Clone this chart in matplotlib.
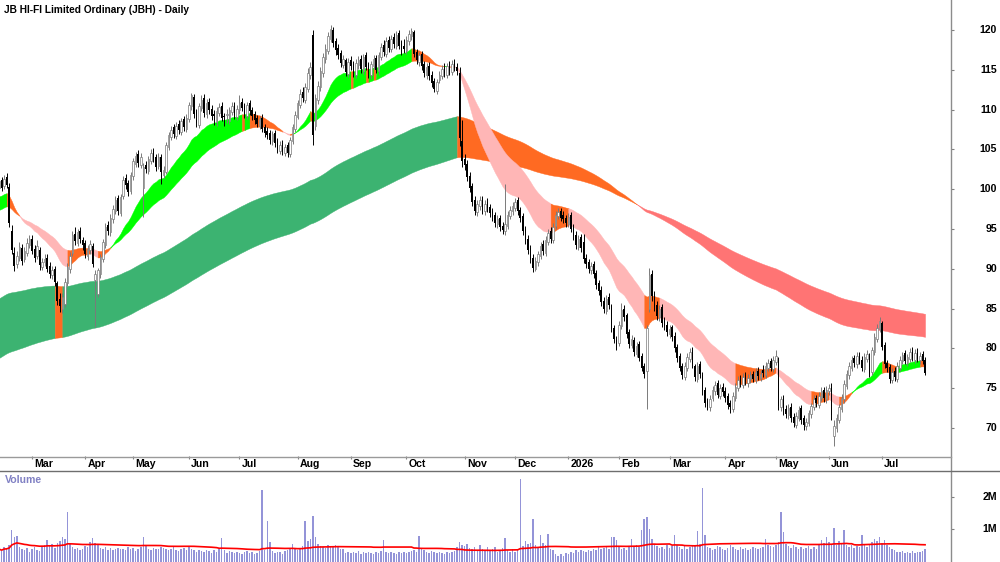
#!/usr/bin/env python3

import matplotlib
matplotlib.use('Agg')
import matplotlib.pyplot as plt
from matplotlib.lines import Line2D
import matplotlib.transforms as mtrans
import numpy as np
import pandas as pd

plt.rcParams['font.family'] = ['Liberation Sans', 'DejaVu Sans']

#ASX trading days, exchange holidays skipped
start_date = '2025-02-12'
asx_holidays = ['2025-04-18', '2025-04-21', '2025-04-25', '2025-06-09', '2025-12-25',
                '2025-12-26', '2026-01-01', '2026-01-26', '2026-04-03', '2026-04-06',
                '2026-06-08']

#daily prices
opens = [
    100.2, 101.1, 100.4, 101.5, 100.3, 94.8, 92.0, 90.6, 91.4,
    92.6, 91.2, 92.0, 93.0, 93.8, 92.5, 91.6, 92.4,
    90.2, 90.9, 91.4, 90.3, 89.2, 90.0, 88.2, 86.2, 85.0,
    85.6, 88.2, 90.0, 92.0, 94.4, 93.3, 94.7, 93.6, 93.2, 91.6, 92.4, 92.9,
    88.6, 86.8, 89.4, 91.2, 93.0, 95.5, 94.6, 96.2, 97.3, 98.9, 97.0,
    99.2, 101.4, 100.8, 99.8, 101.6, 103.2, 104.4,
    103.1, 100.2, 103.0, 102.3, 103.6, 104.8, 104.0, 102.9, 104.0, 101.8,
    102.2, 105.3, 106.6, 107.8, 106.7, 108.2, 107.2, 108.8, 107.6, 108.8, 110.4,
    111.6, 109.7, 108.1, 110.2, 111.4, 109.4, 111.0,
    110.1, 109.4, 108.4, 109.6, 110.5, 109.2, 109.3, 108.6, 109.7, 110.6, 109.1,
    109.9, 111.0, 110.4, 109.2, 110.8, 109.9, 109.4,
    108.9, 108.0, 109.0, 107.8, 107.3, 107.0, 106.0,
    107.1, 106.0, 104.8, 105.8, 104.6, 105.5, 104.4, 106.0, 107.6,
    109.1, 110.6, 112.2, 111.2, 112.6, 114.4, 119.4,
    108.0, 111.2, 112.8, 114.6, 116.4, 117.4, 118.9, 120.0, 118.6,
    117.8, 117.1, 115.6, 116.2, 114.5, 116.2, 115.7, 114.4,
    115.6, 116.4, 114.9, 116.8, 115.6, 114.3, 115.5, 116.5, 114.8, 116.6, 118.1, 117.0, 118.8,
    117.6, 119.1, 118.0, 119.6, 118.2, 118.0, 117.4, 118.6, 119.3,
    119.8, 117.2, 116.0, 117.0, 115.7, 114.4, 115.5, 114.4, 113.6, 112.4, 113.7, 114.2,
    115.3, 114.4, 115.7, 114.7, 115.9, 115.4,
    114.6, 106.0, 103.8, 103.2, 101.7, 100.4, 98.6, 97.1, 97.9, 98.8, 97.2, 98.4,
    97.8, 97.2, 96.7, 95.6, 96.4, 95.4,
    94.7, 95.4, 96.6, 97.2, 97.7, 98.6, 97.4,
    96.6, 95.0, 93.8, 92.6, 91.4, 90.0, 90.8, 91.6, 93.1, 92.0, 93.4, 94.7, 93.6,
    95.4, 96.6, 97.3, 96.8, 96.4, 95.6,
    96.7, 95.2, 94.3, 92.8, 94.0, 93.4, 91.4, 90.8, 89.8, 90.6, 89.5, 88.2, 87.4, 86.0,
    84.7, 86.4, 85.3, 82.6, 81.0,
    80.7, 82.8, 85.0, 84.2, 82.0, 80.4, 81.0, 79.3, 80.5, 79.0, 77.8, 77.2, 85.0, 89.4,
    86.8, 85.4, 83.9, 85.2, 83.4, 83.0, 81.8,
    82.7, 81.6, 80.2, 79.0, 77.8, 76.4, 77.6, 78.7, 79.8, 77.8, 76.2, 78.0, 76.6, 74.8,
    73.4, 72.6,
    73.8, 74.6, 75.6, 74.0, 75.2, 74.7, 74.0, 73.1, 72.4, 73.8, 75.0, 76.2, 75.4, 76.6, 75.7,
    76.1, 76.8, 76.0, 77.2, 76.3, 77.3, 76.7, 77.6, 78.4, 77.4, 78.3,
    78.6, 72.6, 73.8, 72.4, 71.6, 72.7, 71.4, 70.4, 71.3, 72.5, 71.2, 70.2, 70.6, 71.7,
    72.6, 73.8, 72.9, 73.8, 74.8, 73.6,
    74.6, 75.2, 69.0, 70.0, 71.0, 72.4, 73.6, 75.3, 76.6, 77.6, 78.8, 78.0, 79.2, 78.6,
    77.4, 78.7, 79.1, 77.0, 79.6, 81.2, 82.4, 83.2, 80.4, 78.2, 77.7, 76.0, 77.2, 76.2,
    77.6, 78.4, 79.4, 78.2, 78.7, 79.8, 78.6, 79.6, 78.5, 79.3, 78.6,
]
highs = [
    101.6, 101.5, 101.8, 102.0, 100.8, 95.5, 92.8, 92.3, 93.4,
    93.1, 92.8, 93.9, 94.2, 94.3, 93.0, 93.6, 92.8,
    91.4, 91.8, 91.9, 90.8, 90.4, 90.3, 88.5, 86.9, 87.0,
    88.9, 90.7, 92.1, 94.7, 95.3, 95.0, 95.2, 94.0, 93.6, 93.0, 93.6, 93.3,
    89.8, 90.1, 91.9, 93.8, 95.7, 96.0, 96.9, 98.0, 99.1, 99.3, 99.4,
    101.6, 101.9, 101.2, 102.2, 103.9, 104.7, 104.9,
    104.5, 103.3, 103.6, 104.2, 105.1, 105.2, 104.4, 104.6, 104.4, 102.9,
    105.9, 107.2, 108.0, 108.2, 108.5, 108.7, 109.0, 109.2, 109.4, 111.0, 112.1,
    111.9, 110.1, 110.8, 111.8, 111.9, 111.3, 111.5,
    110.6, 109.9, 110.3, 110.8, 110.9, 109.6, 110.1, 110.3, 111.0, 111.0, 110.6,
    111.8, 111.4, 110.8, 111.0, 111.2, 110.3, 109.8,
    109.3, 109.2, 109.4, 108.2, 107.8, 107.4, 107.3,
    107.4, 106.4, 106.0, 106.2, 105.7, 105.9, 106.6, 108.2, 109.8,
    111.2, 112.6, 112.8, 113.3, 115.2, 116.0, 120.0,
    112.0, 113.6, 115.3, 117.1, 118.2, 119.8, 120.6, 120.4, 119.0,
    118.3, 117.5, 116.9, 116.5, 116.5, 116.7, 116.1, 116.3,
    116.7, 116.8, 117.0, 117.2, 116.0, 116.1, 116.8, 116.9, 117.3, 118.4, 118.7, 119.1, 119.2,
    119.4, 119.6, 119.9, 120.0, 118.7, 118.9, 119.2, 120.0, 120.2,
    120.0, 117.6, 117.3, 117.4, 116.1, 115.8, 116.0, 114.8, 114.0, 113.9, 114.9, 115.6,
    115.8, 115.9, 116.1, 116.2, 116.3, 115.9,
    115.3, 108.7, 104.4, 103.7, 102.1, 100.8, 99.1, 98.7, 99.2, 99.2, 98.7, 98.9,
    98.2, 97.6, 97.1, 96.7, 96.8, 95.9,
    100.7, 97.3, 97.9, 98.4, 98.9, 99.0, 97.8,
    97.0, 95.4, 94.2, 93.0, 91.8, 91.5, 92.3, 93.4, 93.6, 94.1, 95.0, 95.2, 95.7,
    97.2, 97.6, 97.7, 97.3, 96.8, 97.0,
    97.1, 95.6, 94.7, 94.3, 94.4, 94.4, 91.8, 91.2, 90.9, 91.0, 89.9, 88.6, 87.8, 86.4,
    86.7, 86.9, 85.6, 83.0, 81.6,
    83.4, 85.7, 85.4, 84.5, 82.4, 81.7, 81.4, 80.8, 80.9, 79.4, 78.2, 83.0, 90.1, 89.8,
    87.2, 85.9, 85.5, 85.6, 83.9, 83.4, 83.0,
    83.0, 82.0, 80.6, 79.4, 78.2, 78.3, 79.4, 80.0, 80.2, 78.1, 78.3, 78.4, 77.0, 75.2,
    73.8, 74.1,
    75.3, 75.9, 76.0, 75.5, 75.6, 75.1, 74.4, 73.5, 74.5, 75.7, 76.5, 76.7, 76.9, 77.0, 76.8,
    77.1, 77.2, 77.5, 77.7, 77.3, 77.9, 78.3, 78.7, 78.8, 79.0, 79.8,
    78.9, 74.0, 74.2, 72.9, 73.0, 73.1, 71.9, 72.0, 72.8, 72.9, 71.6, 71.3, 72.3, 73.2,
    74.1, 74.2, 74.5, 75.1, 75.2, 75.3,
    75.5, 75.6, 71.0, 71.7, 73.0, 74.3, 76.0, 77.3, 78.3, 79.1, 79.2, 79.5, 79.6, 79.0,
    79.4, 79.8, 79.4, 80.2, 81.9, 83.1, 83.9, 83.5, 80.8, 78.6, 78.1, 77.5, 77.7, 78.3,
    79.1, 79.6, 79.8, 79.3, 80.1, 80.2, 79.9, 80.0, 79.6, 79.7, 78.9,
]
lows = [
    99.7, 99.8, 100.0, 100.1, 95.2, 91.8, 89.7, 90.1, 91.0,
    90.5, 90.8, 91.6, 92.6, 91.8, 90.8, 91.2, 89.9,
    89.8, 90.4, 89.6, 88.9, 88.7, 87.9, 85.4, 84.6, 84.5,
    85.2, 87.8, 89.5, 91.6, 93.0, 92.9, 93.2, 92.4, 91.3, 91.1, 91.9, 90.2,
    82.7, 86.5, 88.9, 90.8, 92.6, 94.2, 94.1, 95.8, 96.9, 96.8, 96.6,
    98.8, 100.0, 99.1, 99.4, 101.2, 102.8, 102.8,
    102.7, 96.5, 102.0, 101.9, 103.2, 103.4, 102.3, 102.6, 100.7, 101.4,
    101.9, 104.9, 106.2, 106.4, 106.3, 106.9, 106.8, 107.3, 107.2, 108.4, 110.0,
    108.9, 107.8, 107.7, 109.8, 109.1, 109.0, 109.4,
    108.7, 108.1, 108.0, 109.2, 108.6, 107.9, 108.3, 108.2, 109.3, 108.8, 108.7,
    109.5, 109.8, 109.0, 108.8, 109.3, 108.7, 108.2,
    107.8, 107.6, 107.2, 106.6, 106.3, 105.7, 105.6,
    105.3, 104.5, 104.4, 104.3, 104.2, 104.1, 104.0, 105.7, 107.2,
    108.8, 110.2, 110.9, 110.8, 112.2, 113.9, 105.6,
    107.5, 110.7, 112.3, 114.1, 115.9, 117.0, 118.5, 117.9, 116.9,
    116.4, 115.3, 115.2, 114.2, 114.1, 115.0, 114.1, 114.0,
    115.1, 114.6, 114.5, 115.0, 114.0, 113.9, 115.1, 114.6, 114.4, 116.2, 116.7, 116.6, 117.3,
    117.2, 117.8, 117.6, 117.6, 116.9, 117.1, 117.0, 118.1, 118.8,
    116.6, 115.7, 115.5, 115.0, 114.1, 113.9, 113.7, 112.9, 112.2, 112.0, 113.3, 113.8,
    114.1, 114.0, 114.4, 114.3, 114.8, 114.3,
    105.4, 102.8, 102.4, 101.0, 99.7, 97.9, 96.8, 96.6, 97.4, 96.9, 96.8, 97.1,
    96.5, 96.0, 95.3, 95.1, 94.7, 94.4,
    94.3, 95.0, 96.2, 96.8, 97.3, 96.8, 95.9,
    94.3, 93.1, 91.9, 90.7, 89.6, 89.7, 90.4, 91.2, 91.7, 91.6, 93.0, 93.3, 93.2,
    95.0, 96.2, 96.0, 95.8, 95.3, 95.2,
    94.6, 93.6, 92.5, 92.4, 92.1, 90.7, 90.1, 89.5, 89.4, 88.9, 87.5, 86.7, 85.3, 84.4,
    84.3, 85.0, 82.0, 80.7, 79.8,
    80.3, 82.4, 83.5, 81.3, 80.1, 80.0, 79.0, 78.9, 78.4, 77.1, 76.3, 72.4, 84.6, 86.0,
    84.7, 83.6, 83.4, 82.7, 82.3, 81.5, 81.3,
    80.9, 79.5, 78.3, 77.1, 76.1, 76.0, 77.2, 78.3, 77.5, 75.9, 75.8, 76.3, 74.1, 72.7,
    72.2, 72.1,
    73.4, 74.2, 73.8, 73.6, 74.0, 73.3, 72.4, 71.9, 72.0, 73.4, 74.6, 75.1, 75.0, 75.4, 75.2,
    75.7, 75.8, 75.6, 76.0, 75.9, 76.4, 76.3, 77.2, 77.1, 77.0, 77.9,
    72.3, 72.1, 71.6, 71.3, 71.1, 70.8, 70.1, 70.0, 70.9, 70.5, 69.8, 69.8, 70.2, 71.3,
    72.2, 72.6, 72.5, 73.4, 73.3, 73.2,
    74.1, 71.0, 67.7, 69.5, 70.6, 72.0, 73.2, 74.9, 76.2, 77.2, 77.7, 77.6, 78.0, 77.1,
    77.0, 78.3, 76.4, 76.7, 79.2, 80.8, 82.0, 79.8, 77.5, 77.0, 75.7, 75.6, 75.9, 75.8,
    77.2, 78.0, 78.0, 77.8, 78.3, 78.4, 78.2, 78.3, 78.1, 78.0, 76.6,
]
closes = [
    101.0, 100.2, 101.3, 100.5, 95.8, 92.4, 90.3, 91.6, 92.7,
    91.0, 92.2, 93.3, 93.7, 92.3, 91.4, 92.9, 90.5,
    90.8, 91.2, 90.0, 89.4, 89.8, 88.4, 86.0, 85.3, 86.4,
    88.4, 90.2, 91.6, 94.2, 93.5, 94.6, 93.8, 93.0, 91.8, 92.5, 93.1, 90.6,
    89.4, 89.8, 91.5, 93.4, 95.3, 94.8, 96.4, 97.5, 98.6, 97.2, 99.0,
    101.2, 100.5, 99.6, 101.8, 103.5, 104.2, 103.3,
    104.0, 102.8, 102.5, 103.8, 104.6, 103.9, 102.8, 104.1, 102.2, 102.4,
    105.5, 106.8, 107.5, 106.9, 108.0, 107.4, 108.6, 107.8, 108.9, 110.6, 111.8,
    109.5, 108.3, 110.4, 111.2, 109.6, 110.8, 109.9,
    109.2, 109.2, 109.8, 110.3, 109.0, 109.1, 109.4, 109.9, 110.5, 109.3, 110.1,
    110.8, 110.2, 109.4, 110.6, 109.8, 109.2, 108.7,
    108.2, 108.8, 107.6, 107.1, 106.8, 106.2, 106.9,
    105.8, 105.0, 105.6, 104.8, 105.3, 104.6, 106.2, 107.8, 109.3,
    110.8, 112.0, 111.4, 112.8, 114.6, 115.3, 106.8,
    111.5, 113.0, 114.8, 116.6, 117.6, 119.2, 120.1, 118.4, 117.5,
    116.9, 115.8, 116.4, 114.7, 116.0, 115.5, 114.6, 115.8,
    116.2, 115.1, 116.6, 115.4, 114.5, 115.7, 116.3, 115.0, 116.8, 117.9, 117.2, 118.6, 117.8,
    118.9, 118.2, 119.4, 118.0, 117.4, 117.6, 118.8, 119.5, 119.9,
    117.0, 116.2, 116.8, 115.5, 114.6, 115.3, 114.2, 113.4, 112.6, 113.5, 114.4, 115.1,
    114.6, 115.5, 114.9, 115.7, 115.2, 114.8,
    106.4, 103.5, 103.0, 101.5, 100.2, 98.4, 97.3, 98.1, 98.6, 97.4, 98.2, 97.6,
    97.0, 96.5, 95.8, 96.2, 95.2, 94.9,
    95.6, 96.8, 97.4, 97.9, 98.4, 97.2, 96.4,
    94.8, 93.6, 92.4, 91.2, 90.1, 91.0, 91.8, 92.9, 92.2, 93.6, 94.5, 93.8, 95.2,
    96.8, 97.1, 96.4, 96.2, 95.8, 96.5,
    95.0, 94.1, 93.0, 93.8, 92.6, 91.2, 90.6, 90.0, 90.4, 89.3, 88.0, 87.2, 85.8, 84.9,
    86.2, 85.5, 82.4, 81.2, 80.5,
    83.0, 84.8, 84.0, 81.8, 80.6, 81.2, 79.5, 80.3, 78.8, 77.6, 76.8, 82.6, 89.2, 86.6,
    85.2, 84.1, 85.0, 83.2, 82.8, 82.0, 82.5,
    81.4, 80.0, 78.8, 77.6, 76.6, 77.8, 78.9, 79.6, 78.0, 76.4, 77.8, 76.8, 74.6, 73.2,
    72.8, 73.6,
    74.8, 75.4, 74.2, 75.0, 74.5, 73.8, 72.9, 72.6, 74.0, 75.2, 76.0, 75.6, 76.4, 75.9, 76.3,
    76.6, 76.2, 77.0, 76.5, 76.8, 76.9, 77.8, 78.2, 77.6, 78.5, 79.0,
    72.8, 73.6, 72.2, 71.8, 72.5, 71.2, 70.6, 71.5, 72.3, 71.0, 70.4, 70.8, 71.9, 72.8,
    73.6, 73.1, 74.0, 74.6, 73.8, 74.8,
    75.0, 71.6, 70.2, 71.2, 72.6, 73.8, 75.5, 76.8, 77.8, 78.6, 78.2, 79.0, 78.4, 77.6,
    78.9, 79.3, 76.8, 79.8, 81.4, 82.6, 83.4, 80.2, 78.0, 77.5, 76.2, 77.0, 76.4, 77.8,
    78.6, 79.2, 78.4, 78.9, 79.6, 78.8, 79.4, 78.7, 79.1, 78.4, 76.9,
]
#daily volume, millions of shares
volume_m = [
    0.38, 0.32, 0.45, 0.41, 0.52, 0.97, 0.75, 0.78, 0.45,
    0.40, 0.36, 0.42, 0.30, 0.38, 0.44, 0.35, 0.33,
    0.46, 0.52, 0.66, 0.48, 0.55, 0.42, 0.58, 0.62, 0.76,
    0.68, 1.52, 0.55, 0.45, 0.38, 0.42, 0.36, 0.40, 0.48, 0.44, 0.60, 0.72,
    0.58, 0.50, 0.42, 0.38, 0.45, 0.36, 0.41, 0.34, 0.39, 0.43, 0.37,
    0.40, 0.35, 0.44, 0.38, 0.42, 0.33, 0.40,
    0.45, 0.76, 0.52, 0.40, 0.36, 0.42, 0.38, 0.37, 0.45, 0.41,
    0.39, 0.35, 0.40, 0.44, 0.36, 0.32, 0.38, 0.41, 0.35, 0.46, 0.38,
    0.34, 0.30, 0.36, 0.33, 0.28, 0.35, 0.31,
    0.27, 0.34, 0.30, 0.38, 0.73, 0.36, 0.26, 0.32, 0.28, 0.25, 0.30,
    0.27, 0.24, 0.28, 0.33, 0.26, 0.30, 0.22,
    0.27, 0.31, 2.20, 0.35, 1.25, 0.60, 0.33,
    0.26, 0.30, 0.28, 0.24, 0.32, 0.36, 0.40, 0.55, 0.38,
    0.34, 0.42, 0.48, 1.25, 0.62, 0.70, 1.40,
    0.76, 0.55, 0.48, 0.45, 0.42, 0.50, 0.46, 0.44, 0.52,
    0.48, 0.40, 0.38, 0.27, 0.30, 0.25, 0.29, 0.26,
    0.31, 0.24, 0.28, 0.25, 0.30, 0.27, 0.24, 0.29, 0.26, 0.32, 0.67, 0.28, 0.25,
    0.30, 0.27, 0.24, 0.29, 0.26, 0.28, 0.25, 0.30, 0.33,
    0.36, 0.28, 0.80, 0.42, 0.34, 0.30, 0.27, 0.32, 0.29, 0.25, 0.30, 0.27,
    0.24, 0.28, 0.26, 0.30, 0.33, 0.45,
    0.60, 0.52, 0.48, 0.55, 0.42, 0.38, 0.45, 0.36, 0.50, 0.40, 0.35, 0.46,
    0.32, 0.38, 0.45, 0.30, 0.36, 0.42,
    0.72, 0.35, 0.28, 0.40, 0.30, 0.36, 2.54,
    0.48, 0.62, 0.55, 0.57, 1.30, 0.50, 0.45, 0.82, 0.58, 0.52, 0.85, 0.40, 0.35,
    0.22, 0.18, 0.24, 0.17, 0.25, 0.22,
    0.30, 0.26, 0.34, 0.29, 0.36, 0.32, 0.28, 0.35, 0.31, 0.40, 0.36, 0.44, 0.38, 0.42,
    0.47, 0.40, 0.76, 0.74, 0.66,
    0.45, 0.38, 0.42, 0.35, 0.48, 0.70, 0.44, 0.50, 0.46, 0.97, 1.30, 1.38, 1.00, 0.70,
    0.55, 0.48, 0.42, 0.45, 0.38, 0.50, 0.42,
    0.48, 0.82, 0.52, 0.44, 0.40, 0.47, 0.38, 0.45, 0.52, 0.48, 0.95, 0.55, 2.26, 0.83,
    0.46, 0.42,
    0.36, 0.40, 0.48, 0.44, 0.38, 0.35, 0.42, 0.50, 0.45, 0.40, 0.36, 0.44, 0.38, 0.42, 0.34,
    0.39, 0.45, 0.41, 0.37, 0.43, 0.46, 0.70, 0.52, 0.48, 0.45, 0.50,
    0.60, 1.52, 0.90, 0.55, 0.48, 0.42, 0.50, 0.46, 0.40, 0.44, 0.38, 0.42, 0.47, 0.40,
    0.45, 0.38, 0.52, 0.67, 0.58, 0.75,
    0.60, 0.55, 1.03, 0.50, 0.62, 0.55, 0.97, 0.52, 0.45, 0.50, 0.42, 0.48, 0.44, 0.82,
    0.50, 0.46, 0.55, 0.60, 0.68, 0.62, 0.75, 0.58, 0.65, 0.50, 0.45, 0.40, 0.36, 0.30,
    0.28, 0.32, 0.26, 0.30, 0.27, 0.33, 0.25, 0.30, 0.28, 0.32, 0.38,
]

#ribbon averages (periods) and their values at the left edge of the chart
short_periods = [20, 40]
short_start = [99.1, 97.4]
long_periods = [150, 220]
long_start = [86.3, 78.8]

price_ticks = [70, 75, 80, 85, 90, 95, 100, 105, 110, 115, 120]
volume_ticks = [1, 2]
volume_tick_labels = ['1M', '2M']


def ema(values, span, first):
    a = 2.0 / (span + 1)
    out = np.empty(len(values))
    out[0] = first
    for i in range(1, len(values)):
        out[i] = a * values[i] + (1 - a) * out[i - 1]
    return out


def ribbon(ax, x, close, fast, slow, up_col, down_col, mixed_col, z, down_always=False):
    lo = np.minimum(fast, slow)
    hi = np.maximum(fast, slow)
    cols = []
    for i in range(len(x)):
        if fast[i] >= slow[i]:
            cols.append(up_col if close[i] >= fast[i] else mixed_col)
        elif down_always:
            cols.append(down_col)
        else:
            cols.append(down_col if close[i] <= fast[i] else mixed_col)
    #fill each run of one colour, joined to the point before it
    s = 0
    for i in range(1, len(x) + 1):
        if i == len(x) or cols[i] != cols[s]:
            a = max(s - 1, 0)
            ax.fill_between(x[a:i], lo[a:i], hi[a:i], color=cols[s], lw=0.3,
                            edgecolor=cols[s], zorder=z)
            s = i


o = np.array(opens)
h = np.array(highs)
l = np.array(lows)
c = np.array(closes)
v = np.array(volume_m)
n = len(c)
x = np.arange(n)
dates = pd.bdate_range(start_date, periods=n, freq='C', holidays=asx_holidays)

fig = plt.figure(figsize=(10, 5.62), dpi=100)
ax = fig.add_axes([0, 1 - 456 / 562, 0.951, 456 / 562])
axv = fig.add_axes([0, 0, 0.951, 91 / 562])

#ribbons
s_fast = ema(c, short_periods[0], short_start[0])
s_slow = ema(c, short_periods[1], short_start[1])
l_fast = ema(c, long_periods[0], long_start[0])
l_slow = ema(c, long_periods[1], long_start[1])
ribbon(ax, x, c, l_fast, l_slow, '#3cb371', '#ff7474', '#ff6a22', 1, down_always=True)
ribbon(ax, x, c, s_fast, s_slow, '#00ff00', '#ffb6b6', '#ff6a22', 2)

#candles
up = c >= o
ax.vlines(x[up], l[up], h[up], color='#7a7a7a', lw=0.7, zorder=3)
ax.vlines(x[~up], l[~up], h[~up], color='black', lw=0.7, zorder=3)
body = np.maximum(np.abs(c - o), 0.08)
ax.bar(x[up], body[up], bottom=o[up], width=0.62, facecolor='white',
       edgecolor='#7a7a7a', lw=0.5, zorder=4)
ax.bar(x[~up], body[~up], bottom=c[~up], width=0.62, color='black', lw=0, zorder=4)

xmin, xmax = 0.36, 0.36 + 951 / 2.53
ax.set_xlim(xmin, xmax)
ax.set_ylim(123.77 - 456 / 7.96, 123.77)

#month ticks
months = dates.to_period('M')
first = [i for i in range(1, n) if months[i] != months[i - 1]]
ax.set_xticks(first)
ax.tick_params(axis='x', direction='out', length=2.5, width=0.8, color='#808080',
               labelbottom=False)
for i in first:
    lbl = '2026' if dates[i].month == 1 else dates[i].strftime('%b')
    ax.annotate(lbl, xy=(i, 0), xycoords=('data', 'axes fraction'), xytext=(1.6, -5.8),
                textcoords='offset points', ha='left', va='center', fontsize=7.6,
                fontweight='bold', annotation_clip=False)

#price axis on the right
ax.set_yticks(price_ticks)
ax.yaxis.tick_right()
ax.tick_params(axis='y', direction='out', length=2.5, width=0.8, color='#808080',
               labelright=False, labelleft=False)
tr = mtrans.blended_transform_factory(ax.transAxes, ax.transData)
for p in price_ticks:
    ax.text(997 / 951, p, str(p), transform=tr, ha='right', va='center', fontsize=7.6,
            fontweight='bold', clip_on=False)
for sp in ax.spines.values():
    sp.set_visible(False)

#volume
axv.bar(x, v, width=0.6, color='#9494d8', lw=0, zorder=1)
vol_ma = pd.Series(v).rolling(60, min_periods=1).mean()
axv.plot(x, vol_ma, color='#ff0000', lw=1.2, zorder=2)
axv.set_xlim(xmin, xmax)
axv.set_ylim(-0.015, 2.785)
axv.set_xticks([])
axv.set_yticks(volume_ticks)
axv.yaxis.tick_right()
axv.tick_params(axis='y', direction='out', length=2.5, width=0.8, color='#808080',
                labelright=False, labelleft=False)
trv = mtrans.blended_transform_factory(axv.transAxes, axv.transData)
for t, s in zip(volume_ticks, volume_tick_labels):
    axv.text(997 / 951, t, s, transform=trv, ha='right', va='center', fontsize=7.6,
             fontweight='bold', clip_on=False)
for sp in axv.spines.values():
    sp.set_visible(False)

#panel frame lines
fig.add_artist(Line2D([0.951, 0.951], [0, 1], color='#8c8c8c', lw=1.0))
fig.add_artist(Line2D([0, 0.951], [1 - 456.5 / 562] * 2, color='#9a9a9a', lw=1.0))
fig.add_artist(Line2D([0, 1], [1 - 471 / 562] * 2, color='#6e6e6e', lw=1.0))

fig.text(4 / 1000, 1 - 10 / 562, 'JB HI-FI Limited Ordinary (JBH) - Daily', fontsize=7.3,
         fontweight='bold', ha='left', va='center')
fig.text(5 / 1000, 1 - 480 / 562, 'Volume', fontsize=7.6, fontweight='bold', color='#8181c4',
         ha='left', va='center')

fig.savefig('out.png', dpi=100, facecolor='white')
